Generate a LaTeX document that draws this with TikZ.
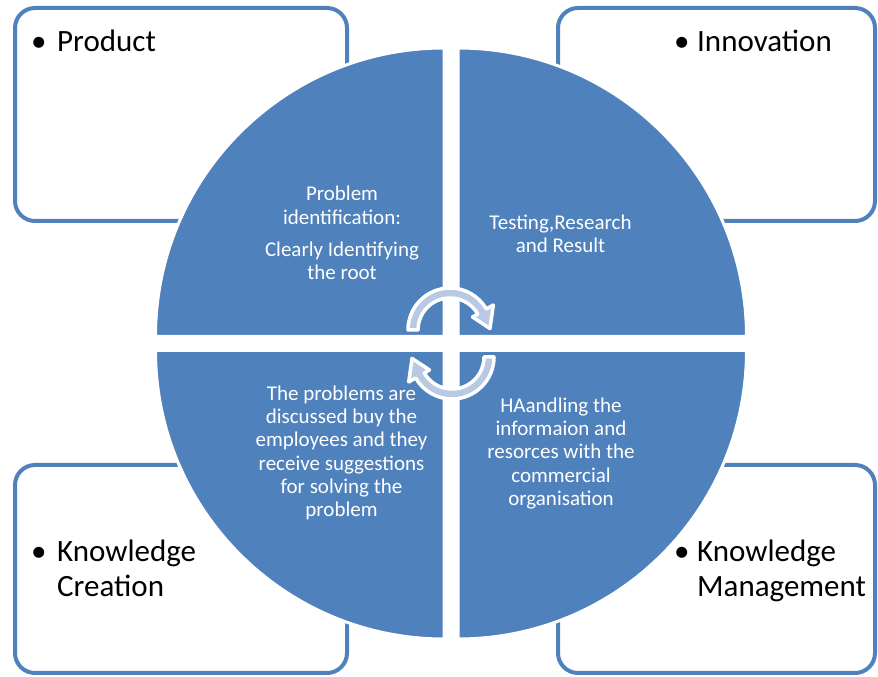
\documentclass[tikz,border=0pt]{standalone}
\usepackage{fontspec}
\setmainfont{Carlito}
\definecolor{qblue}{HTML}{4F81BD}
\definecolor{arrowfill}{HTML}{B9C9E3}
\begin{document}
\begin{tikzpicture}[x=1pt,y=1pt,
  box/.style={draw=qblue,line width=4pt,rounded corners=20pt,rectangle,inner sep=0pt},
  quarter/.style={fill=qblue,draw=white,line width=3pt},
  cyc/.style={fill=arrowfill,draw=white,line width=3.5pt,line join=round},
  lbl/.style={font=\fontsize{31}{35}\selectfont,text=black,align=left,inner sep=0pt,anchor=base west},
  qtxt/.style={font=\fontsize{21}{23.3}\selectfont,text=white,align=center,inner sep=0pt}]
\useasboundingbox (0,0) rectangle (878,677);
\fill[white] (0,0) rectangle (878,677);
% corner boxes
\node[box,minimum width=332pt,minimum height=213pt] (bTL) at (181,562.5) {};
\node[box,minimum width=317pt,minimum height=213pt] (bTR) at (716.5,562.5) {};
\node[box,minimum width=332pt,minimum height=208pt] (bBL) at (181,108) {};
\node[box,minimum width=317pt,minimum height=208pt] (bBR) at (716.5,108) {};
% quarters
\path[quarter] (444,340.5) -- (155.5,340.5) arc[start angle=180,end angle=90,radius=288.5] -- cycle;
\path[quarter] (458,340.5) -- (746.5,340.5) arc[start angle=0,end angle=90,radius=288.5] -- cycle;
\path[quarter] (444,326.5) -- (155.5,326.5) arc[start angle=180,end angle=270,radius=288.5] -- cycle;
\path[quarter] (458,326.5) -- (746.5,326.5) arc[start angle=0,end angle=-90,radius=288.5] -- cycle;
% labels
\node[lbl] (lTL) at (31,625) {\makebox[26pt][l]{\textbullet}Product};
\node[lbl] (lTR) at (674,625) {\makebox[23pt][l]{\textbullet}Innovation};
\node[lbl] (lBL) at (31,80) {\makebox[26pt][l]{\textbullet}Knowledge\\\hspace*{26pt}Creation};
\node[lbl] (lBR) at (674,80) {\makebox[23pt][l]{\textbullet}Knowledge\\\hspace*{23pt}Management};
% quarter texts
\node[qtxt] (tTL) at (342,444) {Problem\\identification:\\[9pt]Clearly Identifying\\the root};
\node[qtxt] (tTR) at (560.5,443.5) {Testing,Research\\and Result};
\node[qtxt] (tBL) at (341.5,224) {The problems are\\discussed buy the\\employees and they\\receive suggestions\\for solving the\\problem};
\node[qtxt] (tBR) at (561,223.5) {HAandling the\\informaion and\\resorces with the\\commercial\\organisation};
% cycle arrows
\coordinate (ct) at (450,347);
\coordinate (cb) at (452,320);
\begin{scope}[shift={(ct)}]
\path[cyc] (180:42) arc[start angle=180,end angle=30,radius=42] -- (30:50) -- (2:40) -- (30:26) -- (30:32) arc[start angle=30,end angle=180,radius=32] -- cycle;
\end{scope}
\begin{scope}[shift={(cb)},rotate=180]
\path[cyc] (180:42) arc[start angle=180,end angle=30,radius=42] -- (30:50) -- (2:40) -- (30:26) -- (30:32) arc[start angle=30,end angle=180,radius=32] -- cycle;
\end{scope}
\end{tikzpicture}
\end{document}
